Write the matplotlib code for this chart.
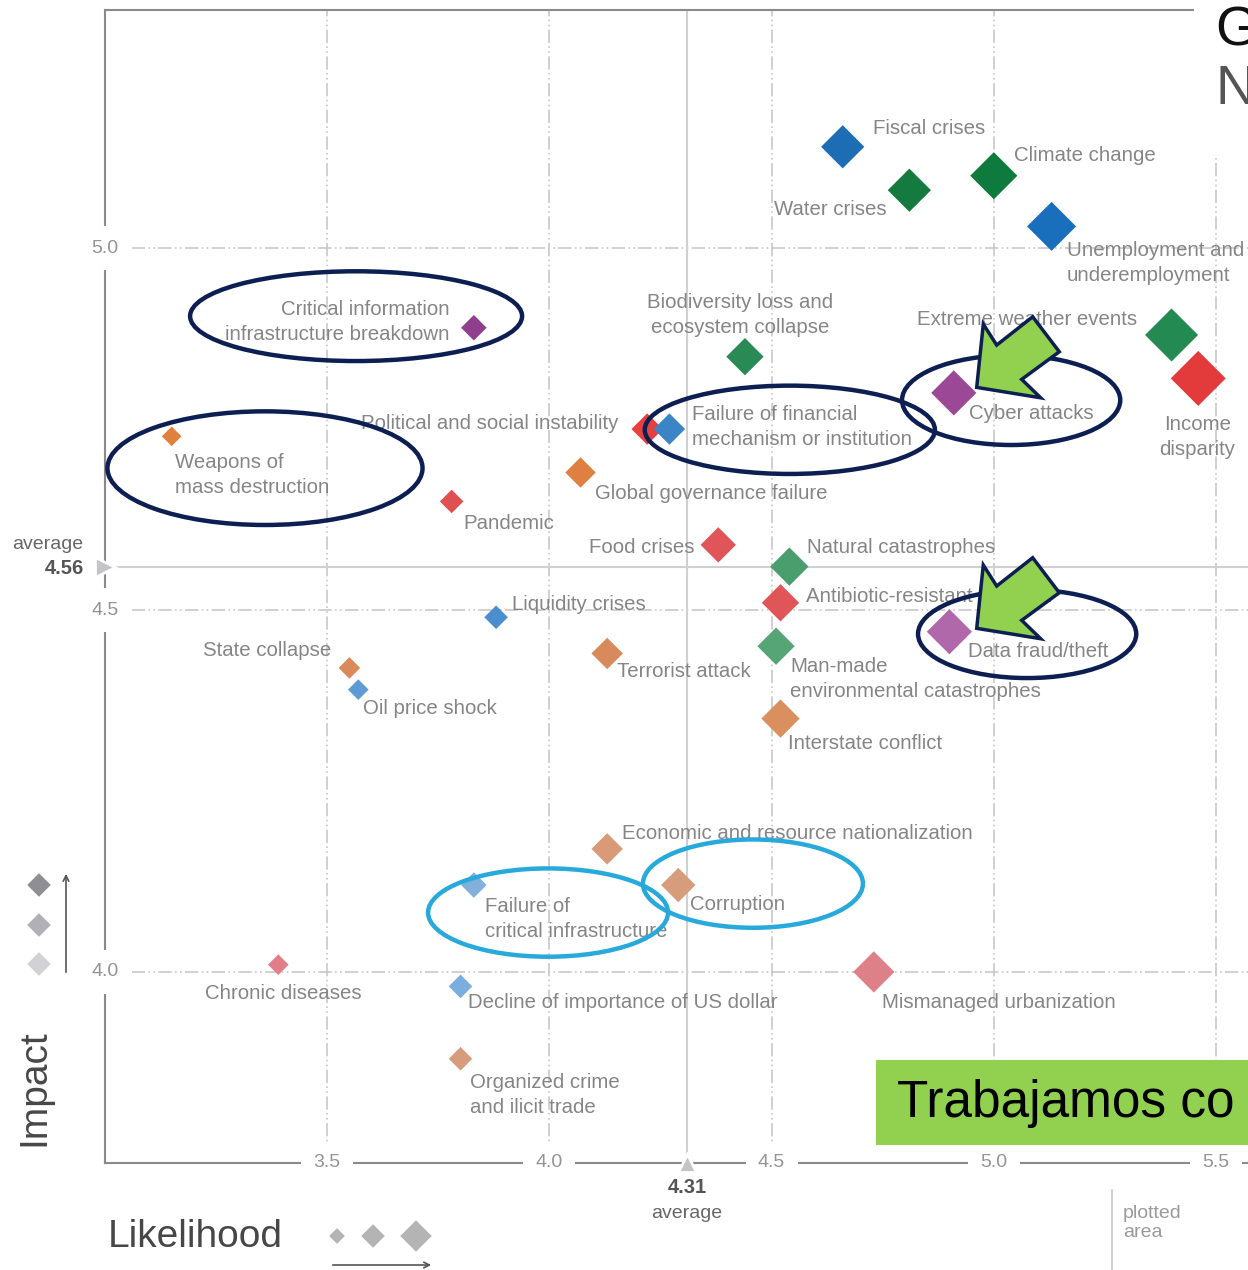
import matplotlib
matplotlib.use('Agg')
import matplotlib.pyplot as plt
from matplotlib.patches import Ellipse, Polygon, Rectangle
from matplotlib.transforms import ScaledTranslation

plt.rcParams['font.family'] = ['Liberation Sans', 'DejaVu Sans']

# Riesgos globales: probabilidad (eje x) e impacto (eje y)
riesgos = [
    'Fiscal crises', 'Water crises', 'Climate change', 'Unemployment and\nunderemployment',
    'Extreme weather events', 'Income\ndisparity', 'Cyber attacks',
    'Biodiversity loss and\necosystem collapse', 'Critical information\ninfrastructure breakdown',
    'Political and social instability', 'Failure of financial\nmechanism or institution',
    'Weapons of\nmass destruction', 'Global governance failure', 'Pandemic', 'Food crises',
    'Natural catastrophes', 'Antibiotic-resistant bacteria', 'Liquidity crises',
    'Data fraud/theft', 'State collapse', 'Terrorist attack',
    'Man-made\nenvironmental catastrophes', 'Oil price shock', 'Interstate conflict',
    'Economic and resource nationalization', 'Failure of\ncritical infrastructure',
    'Corruption', 'Chronic diseases', 'Decline of importance of US dollar',
    'Mismanaged urbanization', 'Organized crime\nand ilicit trade',
]
probabilidad = [4.66, 4.81, 5.00, 5.13, 5.40, 5.46, 4.91, 4.44, 3.83, 4.22, 4.27,
                3.15, 4.07, 3.78, 4.38, 4.54, 4.52, 3.88, 4.90, 3.55, 4.13,
                4.51, 3.57, 4.52, 4.13, 3.83, 4.29, 3.39, 3.80, 4.73, 3.80]
impacto = [5.14, 5.08, 5.10, 5.03, 4.88, 4.82, 4.80, 4.85, 4.89, 4.75, 4.75,
           4.74, 4.69, 4.65, 4.59, 4.56, 4.51, 4.49, 4.47, 4.42, 4.44,
           4.45, 4.39, 4.35, 4.17, 4.12, 4.12, 4.01, 3.98, 4.00, 3.88]
# tamaño del rombo (tendencia)
tamano = [22, 22, 24, 25, 27, 28, 23, 19, 13, 16, 16,
          10, 15.5, 12, 18, 19.5, 19, 12, 23, 11, 16,
          19, 10.5, 19.5, 16, 13, 17.5, 10.5, 12, 21, 12]
colores = ['#1d6db5', '#147a40', '#0e7a3e', '#1a6fbd', '#238a52', '#e33b3b', '#9b4896',
           '#2a8a55', '#8e3f8e', '#e5403f', '#3b85c6', '#e0803c', '#dd8040', '#e05050',
           '#e05558', '#4a9e6e', '#e05558', '#4a8ed0', '#b068aa', '#d9895a', '#d98a5a',
           '#55a577', '#5d9bd6', '#d98f5e', '#d99a78', '#82b0dc', '#d69c7c', '#e07f88',
           '#7aaede', '#de8088', '#d69c7c']

# desplazamiento de cada etiqueta (px) y alineación horizontal
etiquetas_pos = [
    (30, 18, 'left'), (-23, -19, 'right'), (20, 20, 'left'), (15, -37, 'left'),
    (-34, 15, 'right'), (-1, -59, 'center'), (15, -21, 'left'), (-5, 42, 'center'),
    (-24, 6, 'right'), (-29, 6, 'right'), (23, 2, 'left'), (3, -39, 'left'),
    (14, -21, 'left'), (12, -22, 'left'), (-24, -3, 'right'), (18, 19, 'left'),
    (26, 6, 'left'), (16, 13, 'left'), (19, -20, 'left'), (-18, 17, 'right'),
    (10, -18, 'left'), (14, -33, 'left'), (5, -19, 'left'), (8, -25, 'left'),
    (15, 15, 'left'), (11, -34, 'left'), (12, -19, 'left'), (5, -29, 'center'),
    (7, -16, 'left'), (8, -31, 'left'), (9, -36, 'left'),
]

media_prob = 4.31
media_impacto = 4.56
ticks_x = [3.5, 4.0, 4.5, 5.0, 5.5]
ticks_y = [4.0, 4.5, 5.0]

# Elipses de resaltado (centro x, centro y, ancho, alto, color)
elipses = [
    (3.565, 4.906, 0.747, 0.124, '#0d1f52'),
    (3.360, 4.696, 0.709, 0.157, '#0d1f52'),
    (4.541, 4.749, 0.653, 0.122, '#0d1f52'),
    (5.039, 4.790, 0.491, 0.124, '#0d1f52'),
    (5.075, 4.467, 0.491, 0.122, '#0d1f52'),
    (3.997, 4.082, 0.540, 0.122, '#27a9dc'),
    (4.458, 4.122, 0.495, 0.122, '#27a9dc'),
]
# Puntas de las flechas verdes
flechas = [(4.9615, 4.8076), (4.9615, 4.4747)]
forma_flecha = [(0, 0), (6.6, 63.3), (20, 42.3), (56, 70.6), (82.6, 35.6), (45, 8), (64, -10.4)]

fig = plt.figure(figsize=(12.48, 12.70), dpi=100)
ax = fig.add_axes([105 / 1248, 1 - 1163 / 1270, 1 - 105 / 1248, 1153 / 1270])
ax.set_xlim(3.0, 5.572)
ax.set_ylim(3.736, 5.329)
ax.set_xticks([])
ax.set_yticks([])
for lado in ['top', 'right']:
    ax.spines[lado].set_visible(False)
for lado in ['left', 'bottom']:
    ax.spines[lado].set_color('#8a8a8a')
    ax.spines[lado].set_linewidth(1.5)
ax.axhline(5.329, xmax=0.952, color='#8a8a8a', lw=1.5, clip_on=False)

# Rejilla punteada y líneas de promedio
for t in ticks_x:
    ax.axvline(t, color='#c8c8c8', lw=1.2, ls=(0, (8, 2, 1, 2, 1, 2)), zorder=1)
for t in ticks_y:
    ax.axhline(t, color='#c8c8c8', lw=1.2, ls=(0, (8, 2, 1, 2, 1, 2)), zorder=1)
ax.axhline(media_impacto, color='#d0d0d0', lw=1.5, zorder=1)
ax.axvline(media_prob, color='#d0d0d0', lw=1.5, zorder=1)

# Etiquetas de los ejes sobre las líneas
for t in ticks_y:
    ax.text(3.0, t, f'{t:.1f}', ha='center', va='center', fontsize=14, color='#949494',
            bbox=dict(fc='white', ec='none', pad=10), zorder=4, clip_on=False)
for t in ticks_x:
    ax.text(t, 3.736, f'{t:.1f}', ha='center', va='center', fontsize=14, color='#949494',
            bbox=dict(fc='white', ec='none', pad=9), zorder=4, clip_on=False)

ax.plot(3.0, media_impacto, marker='>', ms=14, color='#c4c4c8', mec='white', mew=2,
        clip_on=False, zorder=5)
ax.plot(media_prob, 3.736, marker='^', ms=13, color='#c4c4c8', mec='white', mew=2,
        clip_on=False, zorder=5)
ax.annotate('average', (3.0, media_impacto), xytext=(-22, 22), textcoords='offset pixels',
            ha='right', va='center', fontsize=14, color='#666666', annotation_clip=False)
ax.annotate(f'{media_impacto:.2f}', (3.0, media_impacto), xytext=(-21, -2), textcoords='offset pixels',
            ha='right', va='center', fontsize=14.5, fontweight='bold', color='#555555',
            annotation_clip=False)
ax.annotate(f'{media_prob:.2f}', (media_prob, 3.736), xytext=(0, -25), textcoords='offset pixels',
            ha='center', va='center', fontsize=14.5, fontweight='bold', color='#555555',
            annotation_clip=False)
ax.annotate('average', (media_prob, 3.736), xytext=(0, -51), textcoords='offset pixels',
            ha='center', va='center', fontsize=14, color='#666666', annotation_clip=False)

# Rombos de los riesgos
ax.scatter(probabilidad, impacto, s=[t ** 2 for t in tamano], marker='D', c=colores,
           linewidths=0, zorder=3)
for i, nombre in enumerate(riesgos):
    dx, dy, ha = etiquetas_pos[i]
    ax.annotate(nombre, (probabilidad[i], impacto[i]), xytext=(dx, dy),
                textcoords='offset pixels', ha=ha, va='center', multialignment=ha,
                linespacing=1.4, fontsize=14.7, color='#858585', zorder=4)

for cx, cy, w, h, col in elipses:
    ax.add_patch(Ellipse((cx, cy), w, h, fill=False, ec=col, lw=3.2, zorder=5))

for fx, fy in flechas:
    trans = fig.dpi_scale_trans + ScaledTranslation(fx, fy, ax.transData)
    pts = [(px / 100, py / 100) for px, py in forma_flecha]
    ax.add_patch(Polygon(pts, closed=True, fc='#92d050', ec='#0d1f52', lw=2.5,
                         transform=trans, zorder=6, clip_on=False))

# Capa superior en píxeles para leyendas y títulos
ov = fig.add_axes([0, 0, 1, 1])
ov.set_xlim(0, 1248)
ov.set_ylim(1270, 0)
ov.axis('off')

ov.add_patch(Rectangle((1195, 0), 53, 158, fc='white', ec='none'))
ov.text(1215, 45, 'G', fontsize=40, color='#111111', va='baseline')
ov.text(1215, 104, 'N', fontsize=40, color='#555555', va='baseline')

ov.add_patch(Rectangle((876, 1060), 372, 85, fc='#92d050', ec='none'))
ov.text(897, 1104, 'Trabajamos co', fontsize=37, color='black', va='center')

ov.scatter([39, 39, 39], [885, 925, 964], s=[12 ** 2] * 3, marker='D',
           c=['#8e8e94', '#b0b0b6', '#d2d2d6'], linewidths=0)
ov.annotate('', xy=(66, 871), xytext=(66, 975),
            arrowprops=dict(arrowstyle='->', color='#555555', lw=1.2))
ov.text(34, 1088, 'Impact', rotation=90, fontsize=28, color='#474747', ha='center', va='center')

ov.text(108, 1247, 'Likelihood', fontsize=28, color='#474747', ha='left', va='baseline')
ov.scatter([337, 373, 416], [1236, 1236, 1236], s=[8 ** 2, 12 ** 2, 16 ** 2], marker='D',
           c='#b4b4b4', linewidths=0)
ov.annotate('', xy=(434, 1265), xytext=(330, 1265),
            arrowprops=dict(arrowstyle='->', color='#555555', lw=1.2))

ov.plot([1112, 1112], [1190, 1270], color='#c8c8c8', lw=1.2)
ov.text(1123, 1223, 'plotted\narea', fontsize=14, color='#9a9a9a', va='center', ha='left')

fig.savefig('out.png', dpi=100)
